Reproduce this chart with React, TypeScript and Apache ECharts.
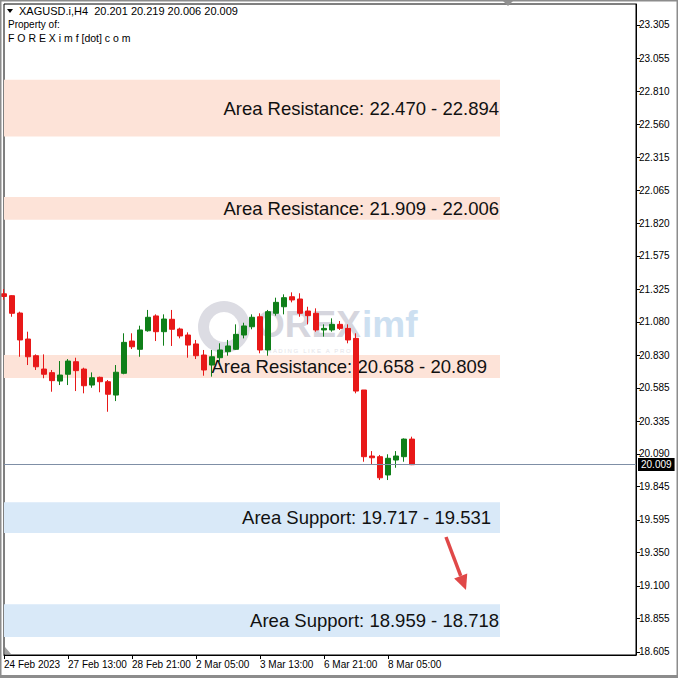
import React, { useEffect, useRef } from "react";
import * as echarts from "echarts";

// ---- Data ----
const TIME_LABELS: string[] = [
  "24 Feb 2023", "24 Feb 09:00", "24 Feb 13:00", "24 Feb 17:00", "24 Feb 21:00",
  "27 Feb 01:00", "27 Feb 05:00", "27 Feb 09:00", "27 Feb 13:00", "27 Feb 17:00", "27 Feb 21:00",
  "28 Feb 01:00", "28 Feb 05:00", "28 Feb 09:00", "28 Feb 13:00", "28 Feb 17:00", "28 Feb 21:00",
  "1 Mar 01:00", "1 Mar 05:00", "1 Mar 09:00", "1 Mar 13:00", "1 Mar 17:00", "1 Mar 21:00",
  "2 Mar 01:00", "2 Mar 05:00", "2 Mar 09:00", "2 Mar 13:00", "2 Mar 17:00", "2 Mar 21:00",
  "3 Mar 01:00", "3 Mar 05:00", "3 Mar 09:00", "3 Mar 13:00", "3 Mar 17:00", "3 Mar 21:00",
  "6 Mar 01:00", "6 Mar 05:00", "6 Mar 09:00", "6 Mar 13:00", "6 Mar 17:00", "6 Mar 21:00",
  "7 Mar 01:00", "7 Mar 05:00", "7 Mar 09:00", "7 Mar 13:00", "7 Mar 17:00", "7 Mar 21:00",
  "8 Mar 01:00", "8 Mar 05:00", "8 Mar 09:00", "8 Mar 13:00", "8 Mar 17:00",
];
const EMPTY_SLOTS = 28; // empty space to the right of the last bar

const OPEN = [
  21.29, 21.276, 21.146, 20.951, 20.826, 20.726, 20.699, 20.636, 20.687, 20.781,
  20.726, 20.606, 20.664, 20.631, 20.531, 20.694, 20.936, 20.874, 21.013, 21.124,
  21.006, 21.099, 21.026, 20.981, 20.914, 20.831, 20.756, 20.811, 20.856, 20.874,
  20.981, 21.043, 21.118, 20.869, 21.144, 21.193, 21.268, 21.251, 21.161, 21.144,
  21.019, 21.019, 21.061, 21.031, 20.956, 20.569, 20.074, 20.069, 19.932, 20.044,
  20.069, 20.201,
];
const HIGH = [
  21.326, 21.28, 21.156, 21.006, 20.836, 20.836, 20.719, 20.786, 20.801, 20.811,
  20.736, 20.701, 20.669, 20.644, 20.756, 20.994, 20.994, 21.051, 21.169, 21.136,
  21.136, 21.169, 21.036, 21.001, 20.944, 20.869, 20.869, 20.919, 20.944, 21.061,
  21.073, 21.136, 21.144, 21.169, 21.261, 21.286, 21.301, 21.294, 21.193, 21.181,
  21.061, 21.106, 21.086, 21.061, 20.994, 20.569, 20.111, 20.082, 20.087, 20.111,
  20.206, 20.219,
];
const LOW = [
  21.245, 21.118, 20.818, 20.756, 20.719, 20.657, 20.556, 20.606, 20.606, 20.561,
  20.544, 20.586, 20.552, 20.406, 20.486, 20.687, 20.876, 20.818, 21.006, 20.936,
  20.901, 20.899, 20.956, 20.811, 20.801, 20.676, 20.669, 20.777, 20.826, 20.869,
  20.956, 21.024, 20.844, 20.826, 21.126, 21.136, 21.226, 21.118, 21.061, 21.006,
  20.969, 21.006, 21.019, 20.919, 20.544, 20.031, 20.007, 19.894, 19.894, 19.986,
  20.031, 20.006,
];
const CLOSE = [
  21.27, 21.144, 20.944, 20.818, 20.743, 20.687, 20.639, 20.681, 20.786, 20.714,
  20.601, 20.661, 20.631, 20.537, 20.702, 20.926, 20.893, 21.019, 21.114, 21.006,
  21.101, 21.024, 20.974, 20.906, 20.826, 20.719, 20.818, 20.869, 20.899, 20.986,
  21.049, 21.114, 20.869, 21.156, 21.226, 21.261, 21.244, 21.144, 21.126, 21.019,
  21.031, 21.061, 21.031, 20.944, 20.561, 20.069, 20.061, 19.911, 20.057, 20.074,
  20.201, 20.009,
];

const Y_TICKS = [
  23.305, 23.055, 22.81, 22.56, 22.315, 22.065, 21.82, 21.575, 21.325, 21.08,
  20.83, 20.585, 20.335, 20.09, 19.845, 19.595, 19.35, 19.1, 18.855, 18.605,
];
const Y_MIN = 18.5825;
const Y_MAX = 23.4624;

const ZONE_TOP = [22.894, 22.016, 20.831, 19.727, 18.963];
const ZONE_BOTTOM = [22.47, 21.845, 20.658, 19.497, 18.718];
const ZONE_LABELS = [
  "Area Resistance: 22.470 - 22.894",
  "Area Resistance: 21.909 - 22.006",
  "Area Resistance: 20.658 - 20.809",
  "Area Support: 19.717 - 19.531",
  "Area Support: 18.959 - 18.718",
];
const ZONE_KIND = ["res", "res", "res", "sup", "sup"];
const ZONE_LABEL_GAP = [1, 1, 13, 9, 1];
const ZONE_END_INDEX = 62;

const HEADER = "XAGUSD.i,H4  20.201 20.219 20.006 20.009";

export default function App() {
  const ref = useRef<HTMLDivElement>(null);
  useEffect(() => {
    document.body.style.margin = "0";
    const chart = echarts.init(ref.current!, null, { renderer: "svg" });
    const categories = TIME_LABELS.concat(new Array(EMPTY_SLOTS).fill(""));
    const candles = OPEN.map((o, i) => [o, CLOSE[i], LOW[i], HIGH[i]]);
    const lastClose = CLOSE[CLOSE.length - 1];
    const n = TIME_LABELS.length;
    const showIdx = (i: number) => i % 8 === 0 && i < n;
    const font = "'Liberation Sans', Arial, sans-serif";

    const zones = ZONE_TOP.map((top, i) => [
      {
        xAxis: 0,
        yAxis: top,
        itemStyle: { color: ZONE_KIND[i] === "res" ? "#fde3d8" : "#d9e9f8" },
        label: {
          show: true,
          position: "insideRight",
          distance: ZONE_LABEL_GAP[i],
          formatter: ZONE_LABELS[i],
          color: "#111",
          fontSize: 18.5,
          fontFamily: font,
        },
      },
      { xAxis: ZONE_END_INDEX, yAxis: ZONE_BOTTOM[i] },
    ]);

    const tip = [466, 590];
    const start = [446, 537];
    const dx = tip[0] - start[0];
    const dy = tip[1] - start[1];
    const len = Math.sqrt(dx * dx + dy * dy);
    const ux = dx / len, uy = dy / len;
    const bx = tip[0] - 15 * ux, by = tip[1] - 15 * uy;
    const px = uy, py = -ux;

    chart.setOption({
      animation: false,
      backgroundColor: "#fff",
      grid: { left: 4, right: 42, top: 4, bottom: 23, show: true, borderColor: "#000", borderWidth: 1 },
      xAxis: {
        type: "category",
        data: categories,
        boundaryGap: false,
        axisLine: { lineStyle: { color: "#000" } },
        axisTick: { interval: (i: number) => showIdx(i), length: 4, lineStyle: { color: "#000" } },
        axisLabel: {
          interval: (i: number) => showIdx(i),
          align: "left",
          margin: 4,
          color: "#000",
          fontSize: 10,
          fontFamily: font,
        },
        splitLine: { show: false },
      },
      yAxis: {
        type: "value",
        position: "right",
        min: Y_MIN,
        max: Y_MAX,
        splitLine: { show: false },
        axisLine: { show: true, lineStyle: { color: "#000" } },
        axisTick: { show: true, customValues: Y_TICKS, length: 4, lineStyle: { color: "#000" } },
        axisLabel: {
          customValues: Y_TICKS,
          formatter: (v: number) => v.toFixed(3),
          color: "#000",
          fontSize: 10,
          margin: 3,
          fontFamily: font,
        },
      },
      graphic: [
        { type: "rect", z: 100, shape: { x: 0.5, y: 0.5, width: 677, height: 677 }, style: { fill: "none", stroke: "#8c8c8c", lineWidth: 2 } },
        { type: "rect", z: 100, shape: { x: 0, y: 675, width: 678, height: 3 }, style: { fill: "#8c8c8c" } },
        { type: "polygon", z: 100, shape: { points: [[7, 9], [13, 9], [10, 13]] }, style: { fill: "#000" } },
        { type: "text", z: 100, x: 19, y: 5, style: { text: HEADER, fill: "#000", font: `11px ${font}` } },
        { type: "text", z: 100, x: 8, y: 19, style: { text: "Property of:", fill: "#000", font: `10px ${font}` } },
        { type: "text", z: 100, x: 8, y: 32, style: { text: "F O R E X i m f [dot] c o m", fill: "#000", font: `10.5px ${font}` } },
        { type: "polygon", z: 100, shape: { points: [[503, 1], [513, 1], [508, 6]] }, style: { fill: "#909090" } },
        { type: "polygon", z: 100, shape: { points: [[5, 647], [5, 654], [11, 654]] }, style: { fill: "#a0a0a0" } },
        // watermark
        { type: "ring", z: 1, shape: { cx: 224, cy: 327, r: 26, r0: 15 }, style: { fill: "#dcdce3" } },
        { type: "text", z: 1, x: 256, y: 306, style: { text: "OREX", fill: "#d6d6de", font: `bold 37px ${font}` } },
        { type: "text", z: 1, x: 362, y: 306, style: { text: "imf", fill: "#cde0f1", font: `bold 37px ${font}` } },
        { type: "text", z: 1, x: 262, y: 348, style: { text: "T R A D I N G   L I K E   A   P R O", fill: "#e3e3e8", font: `6px ${font}` } },
        // arrow
        { type: "line", z: 100, shape: { x1: start[0], y1: start[1], x2: bx, y2: by }, style: { stroke: "#e04848", lineWidth: 3.5 } },
        {
          type: "polygon", z: 100,
          shape: { points: [[tip[0], tip[1]], [bx + 7 * px, by + 7 * py], [bx - 7 * px, by - 7 * py]] },
          style: { fill: "#e04848" },
        },
      ],
      series: [
        {
          type: "candlestick",
          data: candles,
          barWidth: 5,
          clip: true,
          itemStyle: {
            color: "#0f7f19",
            color0: "#e81818",
            borderColor: "#0f7f19",
            borderColor0: "#e81818",
            borderWidth: 1,
          },
          markArea: { silent: true, data: zones },
          markLine: {
            silent: true,
            symbol: ["none", "none"],
            data: [{ yAxis: lastClose }],
            lineStyle: { color: "#7f8fa6", width: 1, type: "solid" },
            label: {
              position: "end",
              distance: 2,
              formatter: lastClose.toFixed(3),
              backgroundColor: "#000",
              color: "#fff",
              fontSize: 10,
              fontFamily: font,
              padding: [2, 3, 1, 3],
            },
          },
        },
      ],
    });
    return () => chart.dispose();
  }, []);
  return <div ref={ref} style={{ position: "fixed", left: 0, top: 0, width: 678, height: 678 }} />;
}
